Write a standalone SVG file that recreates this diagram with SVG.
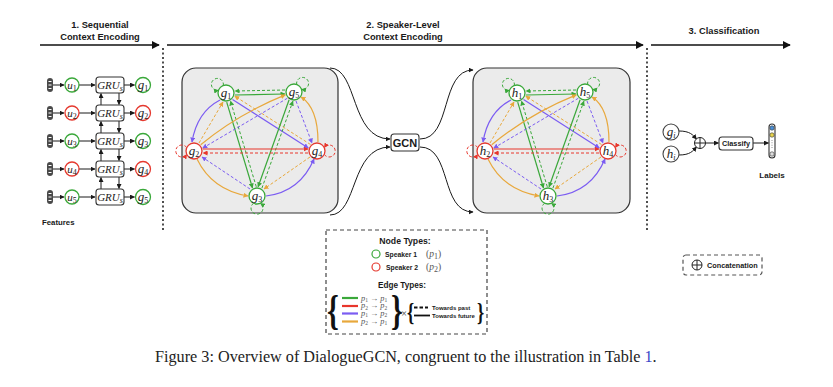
<svg xmlns="http://www.w3.org/2000/svg" xmlns:xlink="http://www.w3.org/1999/xlink" width="833" height="387" viewBox="0 0 833 387">
<style>
.b{font-family:"Liberation Sans",Arial,sans-serif;font-weight:bold;fill:#1a1a1a}
.m{text-anchor:middle}
.nl{font-family:"Liberation Serif","Times New Roman",serif;font-style:italic;font-size:13px;text-anchor:middle;fill:#222}
.sl{font-family:"Liberation Serif","Times New Roman",serif;font-style:italic;font-size:11px;text-anchor:middle;fill:#222}
.sub{font-size:8px;font-style:normal}
.subi{font-size:8px;font-style:italic}
.ng{fill:#fff;stroke:#3aa83a;stroke-width:1.3}
.nr{fill:#fff;stroke:#e5392f;stroke-width:1.3}
.nk{fill:#fff;stroke:#444;stroke-width:1.1}
.box{fill:#fff;stroke:#333;stroke-width:1.1}
.panel{fill:#ebebeb;stroke:#333;stroke-width:1.2}
.e{fill:none;stroke-width:1.2}
.d{fill:none;stroke-width:1;stroke-dasharray:3 2}
.cg{stroke:#3aa83a}.cr{stroke:#e8362c}.cp{stroke:#7b5cf2}.co{stroke:#e8a83c}
.k{fill:none;stroke:#1a1a1a;stroke-width:1}
.top{fill:none;stroke:#111;stroke-width:1.6}
.dot{fill:none;stroke:#222;stroke-width:1.6;stroke-dasharray:2 2.5}
.lg{font-family:"Liberation Serif","Times New Roman",serif;font-size:9.5px;fill:#555}
.le{font-family:"Liberation Serif","Times New Roman",serif;font-size:8.3px;fill:#555}
.br{font-family:"Liberation Serif","Times New Roman",serif;font-weight:bold;fill:#111}
</style>
<defs>
<marker id="mg" viewBox="0 0 10 10" refX="9" refY="5" markerWidth="5" markerHeight="5" markerUnits="userSpaceOnUse" orient="auto"><path d="M0,0L10,5L0,10z" fill="#3aa83a"/></marker>
<marker id="mr" viewBox="0 0 10 10" refX="9" refY="5" markerWidth="5" markerHeight="5" markerUnits="userSpaceOnUse" orient="auto"><path d="M0,0L10,5L0,10z" fill="#e8362c"/></marker>
<marker id="mp" viewBox="0 0 10 10" refX="9" refY="5" markerWidth="5" markerHeight="5" markerUnits="userSpaceOnUse" orient="auto"><path d="M0,0L10,5L0,10z" fill="#7b5cf2"/></marker>
<marker id="mo" viewBox="0 0 10 10" refX="9" refY="5" markerWidth="5" markerHeight="5" markerUnits="userSpaceOnUse" orient="auto"><path d="M0,0L10,5L0,10z" fill="#e8a83c"/></marker>
<marker id="mk" viewBox="0 0 10 10" refX="9" refY="5" markerWidth="5" markerHeight="5" markerUnits="userSpaceOnUse" orient="auto"><path d="M0,0L10,5L0,10z" fill="#1a1a1a"/></marker>
<marker id="mK" viewBox="0 0 10 10" refX="9" refY="5" markerWidth="8" markerHeight="8" markerUnits="userSpaceOnUse" orient="auto"><path d="M0,0L10,5L0,10z" fill="#111"/></marker>
<g id="feat"><rect x="47" y="-7" width="6" height="14" rx="3" fill="#4a4a4a"/><path d="M48.5,-3.5H51.5M48.5,0H51.5M48.5,3.5H51.5" stroke="#fff" stroke-width="1"/></g>
<g id="edges">
<path class="e cg" d="M235,95L285,94" marker-end="url(#mg)"/>
<path class="d cg" d="M285,90L235,91" marker-end="url(#mg)"/>
<path class="e cp" d="M220,100Q197,112 192,142" marker-end="url(#mp)"/>
<path class="d co" d="M199,143L223,102" marker-end="url(#mo)"/>
<path class="e cp" d="M232.5,99.5L308.3,147.9" marker-end="url(#mp)"/>
<path class="d co" d="M310.5,144.5L234.7,96.1" marker-end="url(#mo)"/>
<path class="e cg" d="M226.7,102.2L252.5,188" marker-end="url(#mg)"/>
<path class="d cg" d="M256.3,186.8L230.5,101" marker-end="url(#mg)"/>
<path class="e co" d="M200.7,144.7Q238,114 285.3,94.9" marker-end="url(#mo)"/>
<path class="d cp" d="M287.3,98.3L202.7,148.1" marker-end="url(#mp)"/>
<path class="e co" d="M318,142Q318,108 301,97" marker-end="url(#mo)"/>
<path class="d cp" d="M296,101L312,143" marker-end="url(#mp)"/>
<path class="e cg" d="M289.1,99.8L258.1,186.8" marker-end="url(#mg)"/>
<path class="d cg" d="M261.9,188.2L292.9,101.2" marker-end="url(#mg)"/>
<path class="e cr" d="M203,149L308,149" marker-end="url(#mr)"/>
<path class="d cr" d="M308,153L203,153" marker-end="url(#mr)"/>
<path class="e co" d="M197,159Q212,190 248,196" marker-end="url(#mo)"/>
<path class="d cp" d="M250,189L202,157" marker-end="url(#mp)"/>
<path class="e cp" d="M266,196Q300,192 314,159" marker-end="url(#mp)"/>
<path class="d co" d="M310,157L264,189" marker-end="url(#mo)"/>
<path class="d cg" d="M223.3,85.5A6,6 0 1 0 218.5,90.3" marker-end="url(#mg)"/>
<path class="d cg" d="M296.7,84.5A6,6 0 1 1 301.5,89.3" marker-end="url(#mg)"/>
<path class="d cr" d="M186.75,147.6A6,6 0 1 0 186.75,154.4" marker-end="url(#mr)"/>
<path class="d cr" d="M324.25,154.4A6,6 0 1 0 324.25,147.6" marker-end="url(#mr)"/>
<path class="d cg" d="M253.6,203.25A6,6 0 1 0 260.4,203.25" marker-end="url(#mg)"/>
</g>
</defs>

<g id="stage-headers">
<text class="b m" x="100" y="28" font-size="9.3">1. Sequential</text>
<text class="b m" x="100" y="39.5" font-size="9.3">Context Encoding</text>
<text class="b m" x="403" y="28" font-size="9.3">2. Speaker-Level</text>
<text class="b m" x="403" y="39.5" font-size="9.3">Context Encoding</text>
<text class="b m" x="724" y="34" font-size="9.3">3. Classification</text>
<path class="top" d="M40,45H159" marker-end="url(#mK)"/>
<path class="top" d="M167,45H643" marker-end="url(#mK)"/>
<path class="top" d="M651,45H790" marker-end="url(#mK)"/>
<path class="dot" d="M163,48V232"/>
<path class="dot" d="M647,48V232"/>
</g>

<g id="connectors">
<path class="k" d="M53,85H64" marker-end="url(#mk)"/><path class="k" d="M79,85H95" marker-end="url(#mk)"/><path class="k" d="M124,85H134.5" marker-end="url(#mk)"/>
<path class="k" d="M53,113H64" marker-end="url(#mk)"/><path class="k" d="M79,113H95" marker-end="url(#mk)"/><path class="k" d="M124,113H134.5" marker-end="url(#mk)"/>
<path class="k" d="M53,141H64" marker-end="url(#mk)"/><path class="k" d="M79,141H95" marker-end="url(#mk)"/><path class="k" d="M124,141H134.5" marker-end="url(#mk)"/>
<path class="k" d="M53,169H64" marker-end="url(#mk)"/><path class="k" d="M79,169H95" marker-end="url(#mk)"/><path class="k" d="M124,169H134.5" marker-end="url(#mk)"/>
<path class="k" d="M53,197H64" marker-end="url(#mk)"/><path class="k" d="M79,197H95" marker-end="url(#mk)"/><path class="k" d="M124,197H134.5" marker-end="url(#mk)"/>
<path class="k" d="M101,105V93.5" marker-end="url(#mk)"/><path class="k" d="M119,93V104.5" marker-end="url(#mk)"/>
<path class="k" d="M101,133V121.5" marker-end="url(#mk)"/><path class="k" d="M119,121V132.5" marker-end="url(#mk)"/>
<path class="k" d="M101,161V149.5" marker-end="url(#mk)"/><path class="k" d="M119,149V160.5" marker-end="url(#mk)"/>
<path class="k" d="M101,189V177.5" marker-end="url(#mk)"/><path class="k" d="M119,177V188.5" marker-end="url(#mk)"/>
<path class="k" d="M330,68C358,68 350,139 390,139" marker-end="url(#mk)"/>
<path class="k" d="M330,215C358,215 350,147 390,147" marker-end="url(#mk)"/>
<path class="k" d="M420,139C452,139 440,70 473,70" marker-end="url(#mk)"/>
<path class="k" d="M420,147C452,147 440,212 473,212" marker-end="url(#mk)"/>
<path class="k" d="M679,131C690,131 693,135 696.5,139" marker-end="url(#mk)"/>
<path class="k" d="M679,155C690,155 693,151 696.5,147" marker-end="url(#mk)"/>
<path class="k" d="M705.5,143H718.5" marker-end="url(#mk)"/>
<path class="k" d="M753,143H768.5" marker-end="url(#mk)"/>
</g>

<g id="sequential">
<g id="row1"><use href="#feat" transform="translate(0,85)"/><circle class="ng" cx="72" cy="85" r="7"/><text class="sl" x="72" y="88.5">u<tspan class="sub" dy="2">1</tspan></text><rect class="box" x="96" y="77" width="28" height="16" rx="3"/><text class="sl" x="110" y="88.5" font-size="10">GRU<tspan class="subi" dy="2">s</tspan></text><circle class="ng" cx="143" cy="85" r="7.5"/><text class="nl" x="143" y="88.5" font-size="12">g<tspan class="sub" dy="2">1</tspan></text></g>
<g id="row2"><use href="#feat" transform="translate(0,113)"/><circle class="nr" cx="72" cy="113" r="7"/><text class="sl" x="72" y="116.5">u<tspan class="sub" dy="2">2</tspan></text><rect class="box" x="96" y="105" width="28" height="16" rx="3"/><text class="sl" x="110" y="116.5" font-size="10">GRU<tspan class="subi" dy="2">s</tspan></text><circle class="nr" cx="143" cy="113" r="7.5"/><text class="nl" x="143" y="116.5" font-size="12">g<tspan class="sub" dy="2">2</tspan></text></g>
<g id="row3"><use href="#feat" transform="translate(0,141)"/><circle class="ng" cx="72" cy="141" r="7"/><text class="sl" x="72" y="144.5">u<tspan class="sub" dy="2">3</tspan></text><rect class="box" x="96" y="133" width="28" height="16" rx="3"/><text class="sl" x="110" y="144.5" font-size="10">GRU<tspan class="subi" dy="2">s</tspan></text><circle class="ng" cx="143" cy="141" r="7.5"/><text class="nl" x="143" y="144.5" font-size="12">g<tspan class="sub" dy="2">3</tspan></text></g>
<g id="row4"><use href="#feat" transform="translate(0,169)"/><circle class="nr" cx="72" cy="169" r="7"/><text class="sl" x="72" y="172.5">u<tspan class="sub" dy="2">4</tspan></text><rect class="box" x="96" y="161" width="28" height="16" rx="3"/><text class="sl" x="110" y="172.5" font-size="10">GRU<tspan class="subi" dy="2">s</tspan></text><circle class="nr" cx="143" cy="169" r="7.5"/><text class="nl" x="143" y="172.5" font-size="12">g<tspan class="sub" dy="2">4</tspan></text></g>
<g id="row5"><use href="#feat" transform="translate(0,197)"/><circle class="ng" cx="72" cy="197" r="7"/><text class="sl" x="72" y="200.5">u<tspan class="sub" dy="2">5</tspan></text><rect class="box" x="96" y="189" width="28" height="16" rx="3"/><text class="sl" x="110" y="200.5" font-size="10">GRU<tspan class="subi" dy="2">s</tspan></text><circle class="ng" cx="143" cy="197" r="7.5"/><text class="nl" x="143" y="200.5" font-size="12">g<tspan class="sub" dy="2">5</tspan></text></g>
<text class="b" x="42" y="225" font-size="7.8">Features</text>
</g>

<g id="graph-g">
<rect class="panel" x="182" y="68" width="156" height="145" rx="14"/>
<use href="#edges"/>
<g id="g1"><circle class="ng" cx="226" cy="93" r="8"/><text class="nl" x="226" y="97">g<tspan class="sub" dy="2">1</tspan></text></g>
<g id="g5"><circle class="ng" cx="294" cy="92" r="8"/><text class="nl" x="294" y="96">g<tspan class="sub" dy="2">5</tspan></text></g>
<g id="g2"><circle class="nr" cx="194" cy="151" r="8"/><text class="nl" x="194" y="155">g<tspan class="sub" dy="2">2</tspan></text></g>
<g id="g4"><circle class="nr" cx="317" cy="151" r="8"/><text class="nl" x="317" y="155">g<tspan class="sub" dy="2">4</tspan></text></g>
<g id="g3"><circle class="ng" cx="257" cy="196" r="8"/><text class="nl" x="257" y="200">g<tspan class="sub" dy="2">3</tspan></text></g>
</g>

<g id="gcn"><rect class="box" x="391" y="134" width="28" height="17" rx="3"/><text class="b m" x="405" y="146.5" font-size="11">GCN</text></g>

<g id="graph-h" transform="translate(291,0)">
<rect class="panel" x="182" y="68" width="157" height="145" rx="14"/>
<use href="#edges"/>
<g id="h1"><circle class="ng" cx="226" cy="93" r="8"/><text class="nl" x="226" y="97">h<tspan class="sub" dy="2">1</tspan></text></g>
<g id="h5"><circle class="ng" cx="294" cy="92" r="8"/><text class="nl" x="294" y="96">h<tspan class="sub" dy="2">5</tspan></text></g>
<g id="h2"><circle class="nr" cx="194" cy="151" r="8"/><text class="nl" x="194" y="155">h<tspan class="sub" dy="2">2</tspan></text></g>
<g id="h4"><circle class="nr" cx="317" cy="151" r="8"/><text class="nl" x="317" y="155">h<tspan class="sub" dy="2">4</tspan></text></g>
<g id="h3"><circle class="ng" cx="257" cy="196" r="8"/><text class="nl" x="257" y="200">h<tspan class="sub" dy="2">3</tspan></text></g>
</g>

<g id="classification">
<g id="gi"><circle class="nk" cx="671" cy="132" r="8"/><text class="nl" x="671" y="136">g<tspan class="subi" dy="2">i</tspan></text></g>
<g id="hi"><circle class="nk" cx="671" cy="154" r="8"/><text class="nl" x="671" y="158">h<tspan class="subi" dy="2">i</tspan></text></g>
<g id="concat"><circle cx="700" cy="143" r="5.5" fill="#fff" stroke="#222" stroke-width="1"/><path d="M694.5,143H705.5M700,137.5V148.5" stroke="#222" stroke-width="1"/></g>
<g id="classify"><rect class="box" x="719" y="137" width="34" height="13" rx="3"/><text class="b m" x="736" y="146.3" font-size="7.3">Classify</text></g>
<g id="labels"><rect class="box" x="769" y="124" width="6" height="34" rx="3"/><circle cx="772" cy="128" r="2.2" fill="#4a90d9" stroke="#333" stroke-width="0.6"/><circle cx="772" cy="135" r="2.2" fill="#e8d44d" stroke="#333" stroke-width="0.6"/><path d="M772,140V148" stroke="#555" stroke-width="0.8" stroke-dasharray="0.8 1.6"/><circle cx="772" cy="154" r="2.2" fill="#ddd" stroke="#333" stroke-width="0.6"/><text class="b m" x="772" y="177.5" font-size="8">Labels</text></g>
</g>

<g id="legend">
<rect x="326" y="230" width="161" height="104" fill="#fff" stroke="#444" stroke-width="1.2" stroke-dasharray="4 3"/>
<text class="b m" x="405" y="244" font-size="8.7">Node Types:</text>
<circle cx="376" cy="254" r="4" fill="none" stroke="#3aa83a" stroke-width="1.2"/>
<text class="b" x="385" y="256.5" font-size="6.8">Speaker 1</text>
<text class="lg" x="426" y="257">(<tspan font-style="italic">p</tspan><tspan class="sub" dy="1.5" font-size="6">1</tspan><tspan dy="-1.5">)</tspan></text>
<circle cx="376" cy="267" r="4" fill="none" stroke="#e5392f" stroke-width="1.2"/>
<text class="b" x="386" y="269.5" font-size="6.8">Speaker 2</text>
<text class="lg" x="426" y="270">(<tspan font-style="italic">p</tspan><tspan class="sub" dy="1.5" font-size="6">2</tspan><tspan dy="-1.5">)</tspan></text>
<text class="b m" x="402" y="288" font-size="8.2">Edge Types:</text>
<text class="br" transform="translate(327,323.5) scale(0.7,1)" font-size="43">{</text>
<path d="M342,298H358" stroke="#3aa83a" stroke-width="2.2"/>
<path d="M342,306H358" stroke="#e8362c" stroke-width="2.2"/>
<path d="M342,313.5H358" stroke="#7b5cf2" stroke-width="2.2"/>
<path d="M342,321.5H358" stroke="#e8a83c" stroke-width="2.2"/>
<text class="le" x="361" y="300.5"><tspan font-style="italic">p</tspan><tspan font-size="5.5" dy="1.3">1</tspan><tspan dy="-1.3"> → </tspan><tspan font-style="italic">p</tspan><tspan font-size="5.5" dy="1.3">1</tspan></text>
<text class="le" x="361" y="308.3"><tspan font-style="italic">p</tspan><tspan font-size="5.5" dy="1.3">2</tspan><tspan dy="-1.3"> → </tspan><tspan font-style="italic">p</tspan><tspan font-size="5.5" dy="1.3">2</tspan></text>
<text class="le" x="361" y="316"><tspan font-style="italic">p</tspan><tspan font-size="5.5" dy="1.3">1</tspan><tspan dy="-1.3"> → </tspan><tspan font-style="italic">p</tspan><tspan font-size="5.5" dy="1.3">2</tspan></text>
<text class="le" x="361" y="324"><tspan font-style="italic">p</tspan><tspan font-size="5.5" dy="1.3">2</tspan><tspan dy="-1.3"> → </tspan><tspan font-style="italic">p</tspan><tspan font-size="5.5" dy="1.3">1</tspan></text>
<text class="br" transform="translate(391,323.5) scale(0.7,1)" font-size="43">}</text>
<text x="404" y="316.5" font-family="Liberation Serif,serif" font-size="10" fill="#333" text-anchor="middle">×</text>
<text class="br" transform="translate(407,320.5) scale(0.7,1)" font-size="26">{</text>
<path d="M414,307.5H428" stroke="#111" stroke-width="1.8" stroke-dasharray="3.5 2"/>
<text class="b" x="432" y="309.5" font-size="6">Towards past</text>
<path d="M414,315.5H430" stroke="#111" stroke-width="1.8"/>
<text class="b" x="432" y="317.5" font-size="6">Towards future</text>
<text class="br" transform="translate(477,320.5) scale(0.7,1)" font-size="26">}</text>
</g>

<g id="concat-legend">
<rect x="683" y="255" width="79" height="20" rx="3" fill="#fff" stroke="#555" stroke-width="1.2" stroke-dasharray="4 3"/>
<circle cx="697" cy="265" r="5" fill="none" stroke="#222" stroke-width="1"/><path d="M692,265H702M697,260V270" stroke="#222" stroke-width="1"/>
<text class="b" x="707" y="267.8" font-size="7.3">Concatenation</text>
</g>

<text x="155" y="362" font-family="Liberation Serif,'Times New Roman',serif" font-size="16.2" fill="#222">Figure 3: Overview of DialogueGCN, congruent to the illustration in Table <tspan fill="#3b45c8">1</tspan>.</text>
</svg>
